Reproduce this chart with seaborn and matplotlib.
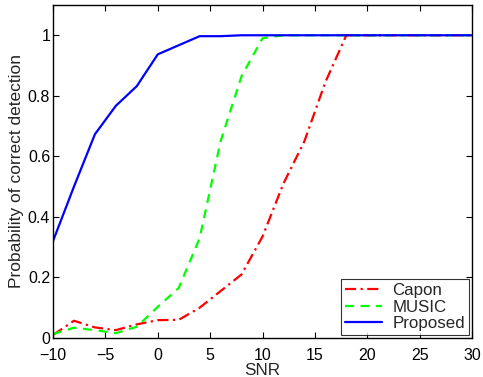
import numpy as np
import pandas as pd
import matplotlib
matplotlib.use("Agg")
import matplotlib.pyplot as plt
import seaborn as sns

snr = [-10, -8, -6, -4, -2, 0, 2, 4, 6, 8, 10, 12, 14, 16, 18, 20, 22, 24, 26, 28, 30]
capon = [0.01, 0.057, 0.035, 0.026, 0.045, 0.059, 0.06, 0.10, 0.155, 0.21, 0.335, 0.51, 0.65, 0.845, 1.0,
         1.0, 1.0, 1.0, 1.0, 1.0, 1.0]
music = [0.013, 0.034, 0.026, 0.016, 0.037, 0.103, 0.165, 0.33, 0.65, 0.865, 0.99, 1.0, 1.0, 1.0, 1.0,
         1.0, 1.0, 1.0, 1.0, 1.0, 1.0]
proposed = [0.32, 0.50, 0.673, 0.767, 0.832, 0.937, 0.967, 0.997, 0.997, 1.0, 1.0, 1.0, 1.0, 1.0, 1.0,
            1.0, 1.0, 1.0, 1.0, 1.0, 1.0]

series = {"Capon": capon, "MUSIC": music, "Proposed": proposed}
df = pd.DataFrame([(s, x, y) for s, vals in series.items() for x, y in zip(snr, vals)],
                  columns=["method", "SNR", "p"])

sns.set_theme(style="ticks")
plt.rcParams["font.family"] = ["Liberation Sans", "DejaVu Sans"]
plt.rcParams["xtick.direction"] = "in"
plt.rcParams["ytick.direction"] = "in"

fig = plt.figure(figsize=(4.83, 3.77), dpi=100)
ax = fig.add_axes([53 / 483, 1 - 338 / 377, 419 / 483, 333 / 377])

styles = {"Capon": ("#ff0000", (0, (5, 2, 1, 2))),
          "MUSIC": ("#00ff00", (0, (4, 3))),
          "Proposed": ("#0000ff", "-")}
for name, (col, ls) in styles.items():
    sns.lineplot(data=df[df["method"] == name], x="SNR", y="p", ax=ax, color=col,
                 linestyle=ls, linewidth=1.6, label=name)

ax.set_xlim(-10, 30)
ax.set_ylim(0, 1.1)
ax.set_xticks([-10, -5, 0, 5, 10, 15, 20, 25, 30])
ax.set_yticks([0, 0.2, 0.4, 0.6, 0.8, 1.0])
ax.set_yticklabels(["0", "0.2", "0.4", "0.6", "0.8", "1"])
ax.tick_params(top=True, right=True, length=4, width=0.8, labelsize=11.5, colors="black", pad=2)
ax.tick_params(axis="x", pad=7)
for sp in ax.spines.values():
    sp.set_color("black")
    sp.set_linewidth(1.0)
ax.set_xlabel("SNR", fontsize=12.3, labelpad=0)
ax.set_ylabel("Probability of correct detection", fontsize=12.5, labelpad=3)

leg = ax.legend(loc="lower right", fontsize=12.2, frameon=True, fancybox=False,
                edgecolor="black", borderaxespad=0.15, handlelength=2.2,
                labelspacing=0.1, borderpad=0.25, handletextpad=0.6)
leg.get_frame().set_linewidth(0.8)

fig.savefig("out.png", dpi=100)
